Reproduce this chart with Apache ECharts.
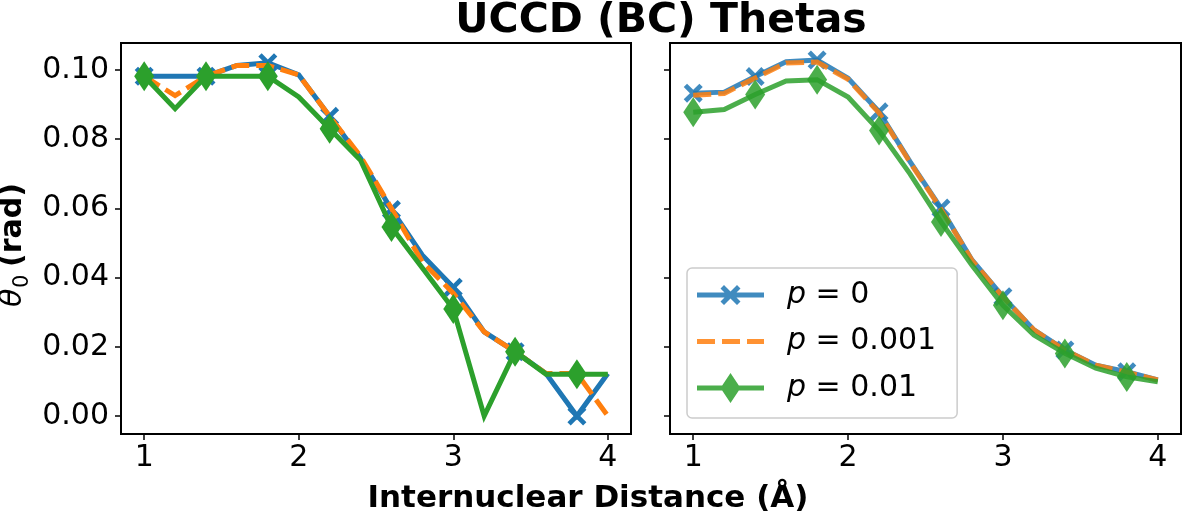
<!DOCTYPE html>
<html>
<head>
<meta charset="utf-8">
<script src="https://cdn.jsdelivr.net/npm/echarts@6/dist/echarts.min.js"></script>
<style>
html,body{margin:0;padding:0;background:#fff;}
#c{width:1182px;height:515px;}
</style>
</head>
<body>
<div id="c"></div>
<script>
// ---- data ----
const distances = [1.0, 1.2, 1.4, 1.6, 1.8, 2.0, 2.2, 2.4, 2.6, 2.8, 3.0, 3.2, 3.4, 3.6, 3.8, 4.0];
const seriesNames = ['p = 0', 'p = 0.001', 'p = 0.01'];
// left panel
const leftP0    = [0.0982, 0.0982, 0.0982, 0.1013, 0.1021, 0.0986, 0.0866, 0.0745, 0.0597, 0.0465, 0.0372, 0.0243, 0.0186, 0.0123, 0.0000, 0.0123];
const leftP001  = [0.0982, 0.0926, 0.0982, 0.1013, 0.1013, 0.0986, 0.0866, 0.0750, 0.0600, 0.0445, 0.0355, 0.0243, 0.0186, 0.0123, 0.0123, 0.0000];
const leftP01   = [0.0982, 0.0888, 0.0982, 0.0982, 0.0982, 0.0922, 0.0830, 0.0739, 0.0546, 0.0428, 0.0309, 0.0000, 0.0186, 0.0121, 0.0121, 0.0121];
// right panel
const rightP0   = [0.0933, 0.0936, 0.0981, 0.1024, 0.1029, 0.0976, 0.0879, 0.0735, 0.0601, 0.0451, 0.0345, 0.0249, 0.0191, 0.0147, 0.0128, 0.0104];
const rightP001 = [0.0927, 0.0932, 0.0977, 0.1020, 0.1023, 0.0973, 0.0876, 0.0733, 0.0598, 0.0450, 0.0344, 0.0249, 0.0190, 0.0147, 0.0127, 0.0104];
const rightP01  = [0.0878, 0.0886, 0.0929, 0.0968, 0.0972, 0.0922, 0.0825, 0.0700, 0.0561, 0.0436, 0.0320, 0.0234, 0.0181, 0.0138, 0.0113, 0.0099];
// ticks
const xTickLabels = ['1', '2', '3', '4'];
const yTickLabels = ['0.00', '0.02', '0.04', '0.06', '0.08', '0.10'];

// ---- styles ----
const FONT = 'DejaVu Sans';
const C_BLUE = '#1f77b4', C_ORANGE = '#ff7f0e', C_GREEN = '#2ca02c';
const X_PATH = 'path://M0,3.5 L3.5,0 L10,6.5 L16.5,0 L20,3.5 L13.5,10 L20,16.5 L16.5,20 L10,13.5 L3.5,20 L0,16.5 L6.5,10 Z';
const LW = 5;

const xVals = xTickLabels.map(Number);
const yVals = yTickLabels.map(Number);

function mkData(ys, sym, size) {
  return distances.map((x, i) => {
    const it = { value: [x, ys[i]] };
    if (i % 2 === 0 && sym) { it.symbol = sym; it.symbolSize = size; }
    else { it.symbol = 'none'; }
    return it;
  });
}
function mkSeries(idx, name, ys, color, kind, alpha) {
  const s = {
    type: 'line', name: name, xAxisIndex: idx, yAxisIndex: idx,
    data: null, showSymbol: true, silent: true,
    lineStyle: { color: color, width: LW, opacity: alpha, cap: 'butt', join: 'miter' },
    itemStyle: { color: color, opacity: alpha },
    animation: false
  };
  if (kind === 'x') { s.data = mkData(ys, X_PATH, 19); s.symbolKeepAspect = true; s.z = 2; }
  else if (kind === 'd') { s.data = mkData(ys, 'diamond', [20, 30]); s.z = 4; }
  else { s.data = mkData(ys, null); s.lineStyle.type = [18, 7]; s.z = 3; }
  return s;
}

function xAxis(idx) {
  return {
    type: 'value', gridIndex: idx, min: 0.85, max: 4.15,
    splitLine: { show: false },
    axisLine: { show: false, onZero: false },
    axisTick: { show: true, length: 6, lineStyle: { color: '#000', width: 1.5 }, customValues: xVals },
    axisLabel: { show: true, customValues: xVals, formatter: v => xTickLabels[xVals.indexOf(v)] ?? String(v),
                 color: '#000', fontSize: 30, fontFamily: FONT, margin: 9 }
  };
}
function yAxis(idx, labels) {
  return {
    type: 'value', gridIndex: idx, min: -0.0052, max: 0.1078,
    splitLine: { show: false },
    axisLine: { show: false, onZero: false },
    axisTick: { show: true, length: 6, lineStyle: { color: '#000', width: 1.5 }, customValues: yVals },
    axisLabel: { show: labels, customValues: yVals,
                 formatter: v => { const k = yVals.findIndex(t => Math.abs(t - v) < 1e-9); return k >= 0 ? yTickLabels[k] : v.toFixed(2); },
                 color: '#000', fontSize: 30, fontFamily: FONT, margin: 12 }
  };
}

// legend icons: line + marker, box 83 x 30
const PADBOX = ' M0,0 L0,0 Z M83,30 L83,30 Z';
const LINE_RECT = 'M0,12.5 L67,12.5 L67,17.5 L0,17.5 Z';
const iconBlue = 'path://' + LINE_RECT + ' M23.5,8.5 L27,5 L33.5,11.5 L40,5 L43.5,8.5 L37,15 L43.5,21.5 L40,25 L33.5,18.5 L27,25 L23.5,21.5 L30,15 Z' + PADBOX;
const iconOrange = 'path://M0,12.5 L18,12.5 L18,17.5 L0,17.5 Z M25,12.5 L43,12.5 L43,17.5 L25,17.5 Z M50,12.5 L67,12.5 L67,17.5 L50,17.5 Z' + PADBOX;
const iconGreen = 'path://' + LINE_RECT + ' M33.5,0 L43.5,15 L33.5,30 L23.5,15 Z' + PADBOX;

const option = {
  animation: false,
  backgroundColor: '#fff',
  title: {
    text: 'UCCD (BC) Thetas', left: 661, top: 1, textAlign: 'center', padding: 0,
    textStyle: { fontSize: 41, fontWeight: 'bold', color: '#000', fontFamily: FONT }
  },
  grid: [
    { left: 121, top: 43, width: 510, height: 391, show: true, borderColor: '#000', borderWidth: 2, backgroundColor: 'transparent', containLabel: false },
    { left: 670, top: 43, width: 511, height: 391, show: true, borderColor: '#000', borderWidth: 2, backgroundColor: 'transparent', containLabel: false }
  ],
  xAxis: [xAxis(0), xAxis(1)],
  yAxis: [yAxis(0, true), yAxis(1, false)],
  legend: {
    orient: 'vertical', left: 687, top: 268,
    padding: [12, 21, 15, 10], itemGap: 16.5, itemWidth: 83, itemHeight: 30,
    backgroundColor: 'rgba(255,255,255,0.85)', borderColor: '#cccccc', borderWidth: 1.5, borderRadius: 5,
    selectedMode: false,
    data: [
      { name: seriesNames[0], icon: iconBlue, itemStyle: { color: C_BLUE, opacity: 0.85 } },
      { name: seriesNames[1], icon: iconOrange, itemStyle: { color: C_ORANGE, opacity: 0.85 } },
      { name: seriesNames[2], icon: iconGreen, itemStyle: { color: C_GREEN, opacity: 0.85 } }
    ],
    formatter: n => '{i|p}' + n.slice(1),
    textStyle: { fontSize: 30, color: '#000', fontFamily: FONT, padding: [0, 0, 0, 2],
      rich: { i: { fontStyle: 'italic', fontSize: 30, color: '#000', fontFamily: FONT } } }
  },
  graphic: [
    { type: 'text', x: 588, y: 499, silent: true,
      style: { text: 'Internuclear Distance (Å)', fill: '#000', font: 'bold 31px "DejaVu Sans"', align: 'center', verticalAlign: 'middle' } },
    { type: 'group', x: 13, y: 242, rotation: Math.PI / 2, silent: true, children: [
      { type: 'text', x: -65, y: 0, style: { text: 'θ', fill: '#000', font: 'italic 30px "DejaVu Sans"', align: 'left', verticalAlign: 'middle' } },
      { type: 'text', x: -46, y: 10, style: { text: '0', fill: '#000', font: '21px "DejaVu Sans"', align: 'left', verticalAlign: 'middle' } },
      { type: 'text', x: -25, y: 0, style: { text: '(rad)', fill: '#000', font: 'bold 30px "DejaVu Sans"', align: 'left', verticalAlign: 'middle' } }
    ]}
  ],
  series: [
    mkSeries(0, seriesNames[0], leftP0, C_BLUE, 'x', 1),
    mkSeries(0, seriesNames[1], leftP001, C_ORANGE, '-', 1),
    mkSeries(0, seriesNames[2], leftP01, C_GREEN, 'd', 1),
    mkSeries(1, seriesNames[0], rightP0, C_BLUE, 'x', 0.85),
    mkSeries(1, seriesNames[1], rightP001, C_ORANGE, '-', 0.85),
    mkSeries(1, seriesNames[2], rightP01, C_GREEN, 'd', 0.85)
  ]
};
const chart = echarts.init(document.getElementById('c'), null, { renderer: 'canvas' });
chart.setOption(option);
</script>
</body>
</html>
